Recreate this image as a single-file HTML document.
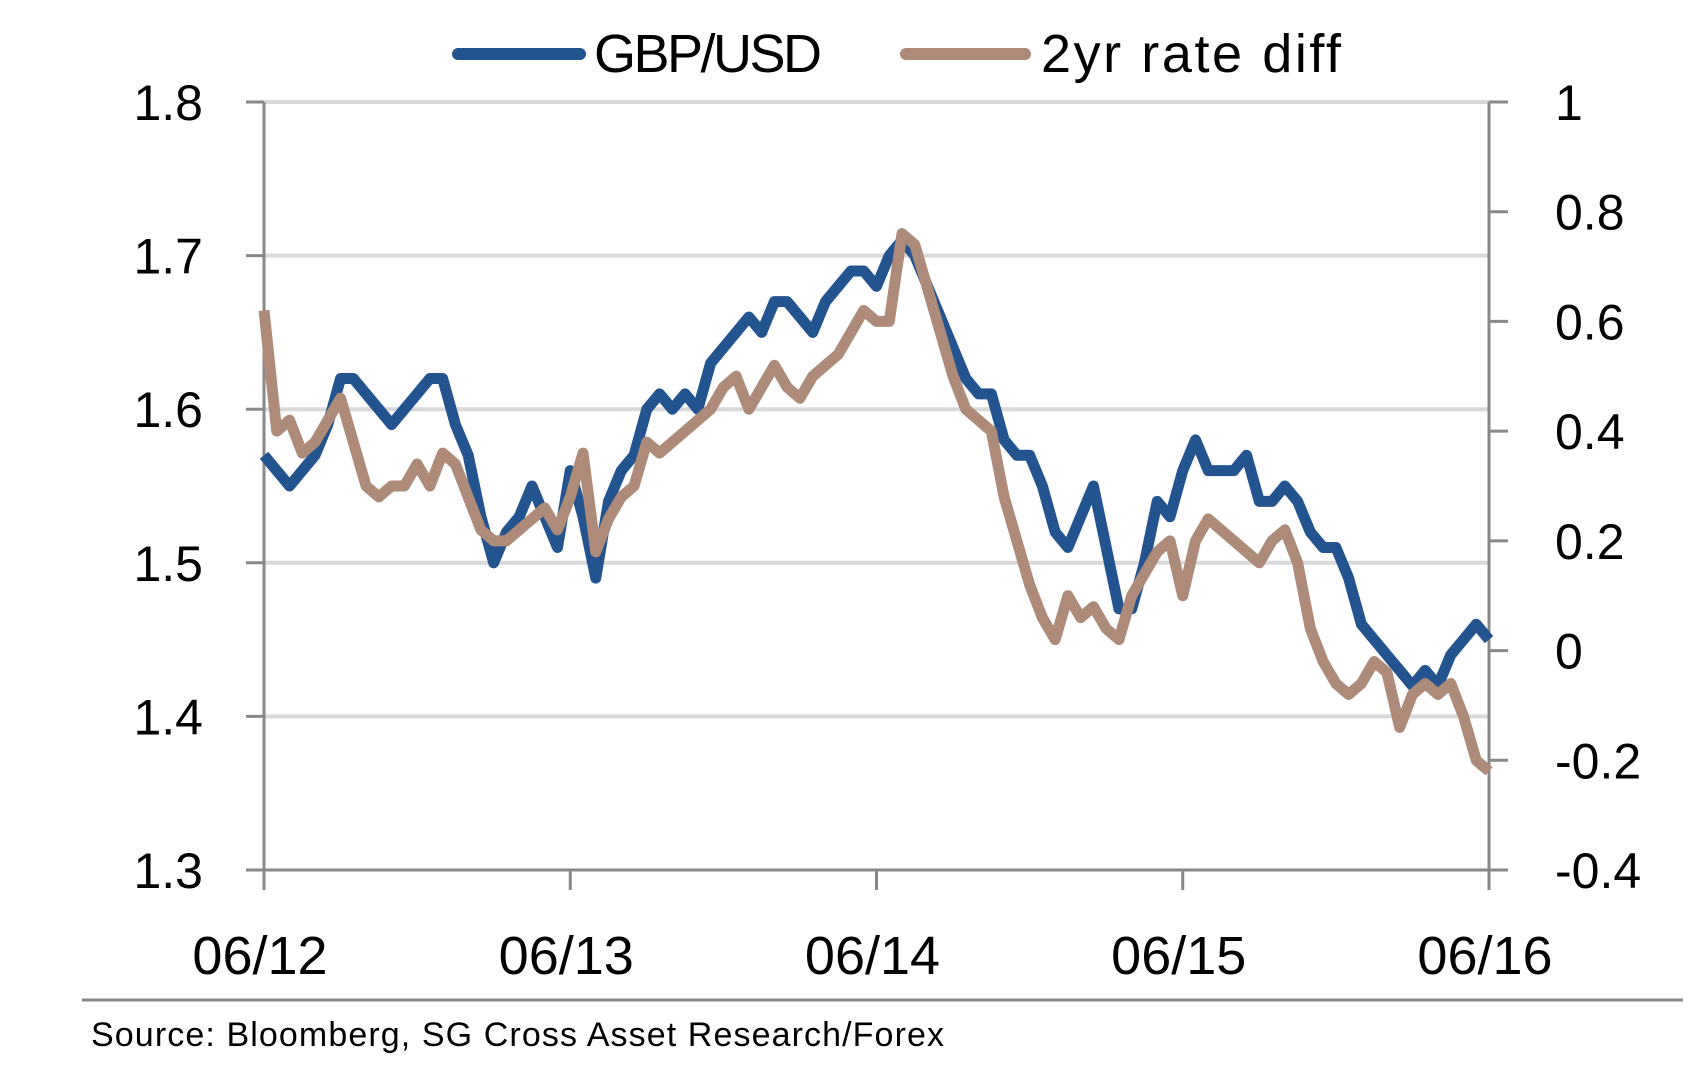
<!DOCTYPE html>
<html><head><meta charset="utf-8"><style>
body{margin:0;background:#fff;}
svg{display:block;font-family:"Liberation Sans",Arial,sans-serif;}
</style></head><body>
<svg id="chart" width="1696" height="1068" viewBox="0 0 1696 1068">
<g id="grid"></g>
<g id="axes"></g>
<g id="series"></g>
<g>
 <line x1="458" y1="54" x2="580" y2="54" stroke="#24548f" stroke-width="12" stroke-linecap="round"/>
 <text x="594" y="72" font-size="54" textLength="228" fill="#000">GBP/USD</text>
 <line x1="906" y1="54" x2="1025" y2="54" stroke="#ad8b78" stroke-width="12" stroke-linecap="round"/>
 <text x="1041" y="72" font-size="54" textLength="300" fill="#000">2yr rate diff</text>
</g>
<line x1="82" y1="1000" x2="1683" y2="1000" stroke="#888" stroke-width="3"/>
<text x="91" y="1046" font-size="34" textLength="853" fill="#000">Source: Bloomberg, SG Cross Asset Research/Forex</text>
</svg>
<script>
const xLabels=["06/12","06/13","06/14","06/15","06/16"];
const leftTicks=[1.3,1.4,1.5,1.6,1.7,1.8];
const rightTicks=[-0.4,-0.2,0,0.2,0.4,0.6,0.8,1];
const gbpusd=[1.57,1.56,1.55,1.56,1.57,1.59,1.62,1.62,1.61,1.60,1.59,1.60,1.61,1.62,1.62,1.59,1.57,1.53,1.50,1.52,1.53,1.55,1.53,1.51,1.56,1.53,1.49,1.54,1.56,1.57,1.60,1.61,1.60,1.61,1.60,1.63,1.64,1.65,1.66,1.65,1.67,1.67,1.66,1.65,1.67,1.68,1.69,1.69,1.68,1.70,1.71,1.70,1.68,1.66,1.64,1.62,1.61,1.61,1.58,1.57,1.57,1.55,1.52,1.51,1.53,1.55,1.51,1.47,1.47,1.50,1.54,1.53,1.56,1.58,1.56,1.56,1.56,1.57,1.54,1.54,1.55,1.54,1.52,1.51,1.51,1.49,1.46,1.45,1.44,1.43,1.42,1.43,1.42,1.44,1.45,1.46,1.45];
const rateDiff=[0.62,0.40,0.42,0.36,0.38,0.42,0.46,0.38,0.30,0.28,0.30,0.30,0.34,0.30,0.36,0.34,0.28,0.22,0.20,0.20,0.22,0.24,0.26,0.22,0.28,0.36,0.18,0.24,0.28,0.30,0.38,0.36,0.38,0.40,0.42,0.44,0.48,0.50,0.44,0.48,0.52,0.48,0.46,0.50,0.52,0.54,0.58,0.62,0.60,0.60,0.76,0.74,0.66,0.58,0.50,0.44,0.42,0.40,0.28,0.20,0.12,0.06,0.02,0.10,0.06,0.08,0.04,0.02,0.10,0.14,0.18,0.20,0.10,0.20,0.24,0.22,0.20,0.18,0.16,0.20,0.22,0.16,0.04,-0.02,-0.06,-0.08,-0.06,-0.02,-0.04,-0.14,-0.08,-0.06,-0.08,-0.06,-0.12,-0.20,-0.22];

const X0=264,X1=1489,Y0=870,Y1=102;
const NS="http://www.w3.org/2000/svg";
const yL=v=>Y0-(v-1.3)/0.5*(Y0-Y1);
const yR=v=>Y0-(v+0.4)/1.4*(Y0-Y1);
const xI=(i,n)=>X0+i/(n-1)*(X1-X0);
const xT=i=>X0+i/(xLabels.length-1)*(X1-X0);
function mk(tag,attrs,parent){const e=document.createElementNS(NS,tag);for(const k in attrs)e.setAttribute(k,attrs[k]);parent.appendChild(e);return e;}
const grid=document.getElementById('grid'),axes=document.getElementById('axes'),series=document.getElementById('series');

leftTicks.forEach(v=>{
 if(v>1.3){const g=mk('line',{x1:X0,x2:X1,y1:yL(v),y2:yL(v),stroke:'#d9d9d9','stroke-width':4},grid);
 
 }
 const t=mk('line',{x1:X0-18,x2:X0,y1:yL(v),y2:yL(v),stroke:'#888','stroke-width':3},axes);
 
 
 const l=mk('text',{x:203,y:yL(v)+18,'font-size':50,'text-anchor':'end',fill:'#000'},axes);
 
 
 l.textContent=v.toFixed(1);
});
rightTicks.forEach(v=>{
 const t=mk('line',{x1:X1,x2:X1+19,y1:yR(v),y2:yR(v),stroke:'#888','stroke-width':3},axes);
 
 
 const l=mk('text',{x:1555,y:yR(v)+18,'font-size':50,fill:'#000'},axes);
 
 
 l.textContent=(Math.abs(v)<1e-9)?'0':String(v);
});
xLabels.forEach((s,i)=>{
 const t=mk('line',{x1:xT(i),x2:xT(i),y1:Y0,y2:Y0+20,stroke:'#888','stroke-width':3},axes);
 
 
 const l=mk('text',{x:xT(i)-4,y:974,'font-size':54,'text-anchor':'middle',fill:'#000'},axes);
 
 
 l.textContent=s;
});
const la=mk('line',{x1:X0,x2:X0,y1:Y1,y2:Y0,stroke:'#888','stroke-width':3},axes);


const ra=mk('line',{x1:X1,x2:X1,y1:Y1,y2:Y0,stroke:'#888','stroke-width':3},axes);


const xa=mk('line',{x1:X0,x2:X1,y1:Y0,y2:Y0,stroke:'#888','stroke-width':3},axes);



const p1=mk('polyline',{points:gbpusd.map((v,i)=>xI(i,gbpusd.length)+','+yL(v)).join(' '),fill:'none',stroke:'#24548f','stroke-width':11,'stroke-linejoin':'round'},series);


const p2=mk('polyline',{points:rateDiff.map((v,i)=>xI(i,rateDiff.length)+','+yR(v)).join(' '),fill:'none',stroke:'#ad8b78','stroke-width':11,'stroke-linejoin':'round'},series);


</script>
</body></html>
